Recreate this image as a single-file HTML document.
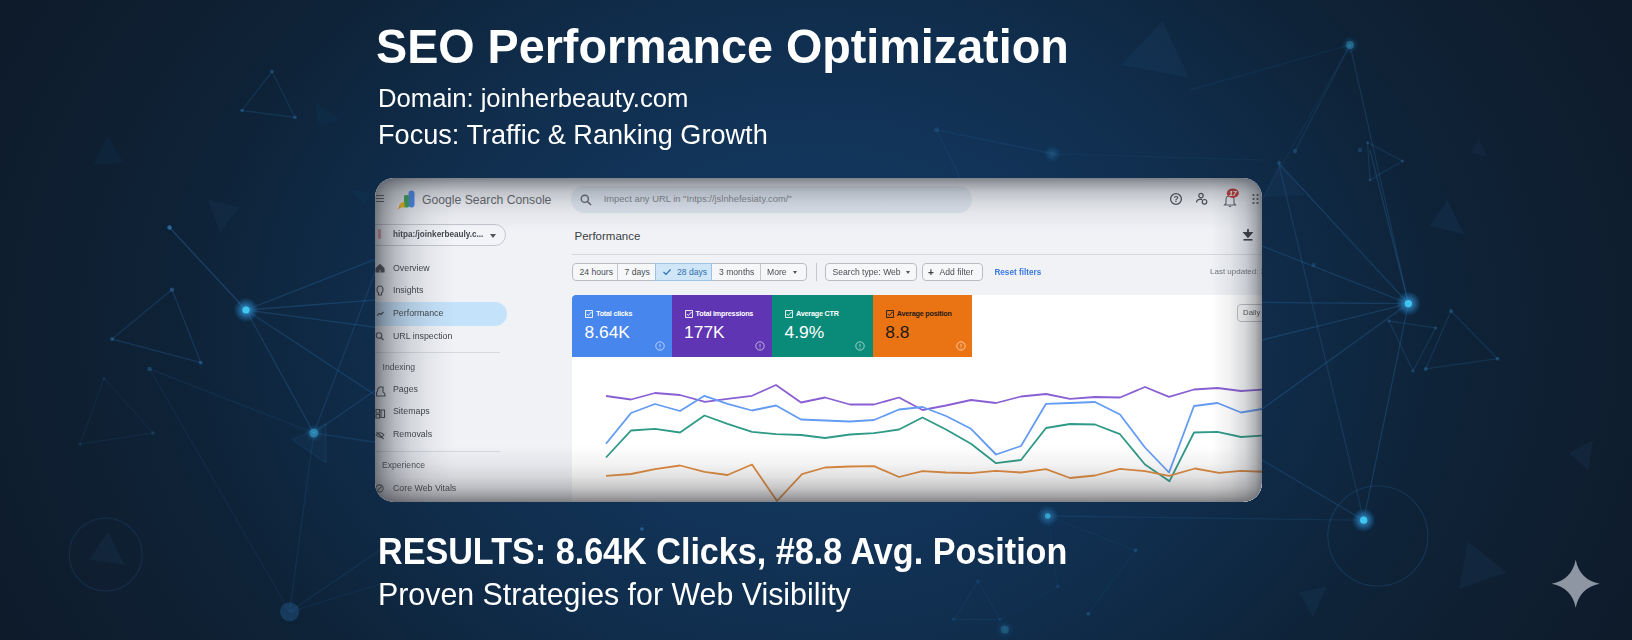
<!DOCTYPE html>
<html><head><meta charset="utf-8">
<style>
*{margin:0;padding:0;box-sizing:border-box}
html,body{width:1632px;height:640px;overflow:hidden}
body{position:relative;font-family:"Liberation Sans",sans-serif;background:#0e1b2b}
#bg{position:absolute;left:0;top:0;width:1632px;height:640px;
background:radial-gradient(ellipse 936px 720px at 815px 330px,#13385d 0%,#12355a 25%,#102d4c 46%,#0e2338 67%,#0f1e30 84%,#0d1a29 100%);}
.t{position:absolute;color:#fff;white-space:nowrap;line-height:1;transform-origin:0 0}
.abs{position:absolute}
.tx{position:absolute;white-space:nowrap;line-height:1}
#title{left:376px;top:21.6px;font-size:46.7px;font-weight:bold;transform:scaleY(1.047)}
#dom{left:378px;top:85.4px;font-size:25.67px;transform:scaleY(1.03)}
#foc{left:378px;top:121.27px;font-size:27.12px;transform:scaleY(1.007)}
#res{left:378px;top:533px;font-size:34.15px;font-weight:bold;transform:scaleY(1.064)}
#pro{left:378px;top:579px;font-size:30.35px;transform:scaleY(1.048)}
#card{position:absolute;left:375px;top:178px;width:887px;height:324px;border-radius:19px;overflow:hidden;background:#f0f2f6}
</style></head><body>
<div id="bg"></div>
<svg style="position:absolute;left:0;top:0" width="1632" height="640" viewBox="0 0 1632 640">
<defs><filter id="bl" x="-5%" y="-5%" width="110%" height="110%"><feGaussianBlur stdDeviation="0.7"/></filter></defs><g filter="url(#bl)">
<defs><radialGradient id="gl"><stop offset="0" stop-color="#3fb0e6" stop-opacity=".9"/><stop offset=".5" stop-color="#2a80bd" stop-opacity=".6"/><stop offset=".8" stop-color="#20679f" stop-opacity=".3"/><stop offset="1" stop-color="#1a5f98" stop-opacity="0"/></radialGradient></defs>
<line x1="272" y1="71.5" x2="242" y2="110.5" stroke="#3d8fd8" stroke-opacity="0.154" stroke-width="1.3"/>
<line x1="242" y1="110.5" x2="295" y2="117.5" stroke="#3d8fd8" stroke-opacity="0.154" stroke-width="1.3"/>
<line x1="295" y1="117.5" x2="272" y2="71.5" stroke="#3d8fd8" stroke-opacity="0.154" stroke-width="1.3"/>
<line x1="172" y1="289.6" x2="112" y2="339" stroke="#3d8fd8" stroke-opacity="0.193" stroke-width="1.3"/>
<line x1="112" y1="339" x2="200.8" y2="362.7" stroke="#3d8fd8" stroke-opacity="0.193" stroke-width="1.3"/>
<line x1="200.8" y1="362.7" x2="172" y2="289.6" stroke="#3d8fd8" stroke-opacity="0.193" stroke-width="1.3"/>
<line x1="104" y1="378.4" x2="79.9" y2="444.2" stroke="#3d8fd8" stroke-opacity="0.083" stroke-width="1.3"/>
<line x1="79.9" y1="444.2" x2="153" y2="433" stroke="#3d8fd8" stroke-opacity="0.083" stroke-width="1.3"/>
<line x1="153" y1="433" x2="104" y2="378.4" stroke="#3d8fd8" stroke-opacity="0.083" stroke-width="1.3"/>
<line x1="169.5" y1="227.5" x2="246" y2="310" stroke="#3d8fd8" stroke-opacity="0.275" stroke-width="1.3"/>
<line x1="149.6" y1="368.9" x2="289.6" y2="611.8" stroke="#3d8fd8" stroke-opacity="0.094" stroke-width="1.3"/>
<line x1="149.6" y1="368.9" x2="313.8" y2="433" stroke="#3d8fd8" stroke-opacity="0.110" stroke-width="1.3"/>
<line x1="313.8" y1="433" x2="246" y2="310" stroke="#3d8fd8" stroke-opacity="0.220" stroke-width="1.3"/>
<line x1="313.8" y1="433" x2="380" y2="387" stroke="#3d8fd8" stroke-opacity="0.193" stroke-width="1.3"/>
<line x1="313.8" y1="433" x2="380" y2="443" stroke="#3d8fd8" stroke-opacity="0.165" stroke-width="1.3"/>
<line x1="313.8" y1="433" x2="289.6" y2="611.8" stroke="#3d8fd8" stroke-opacity="0.121" stroke-width="1.3"/>
<line x1="313.8" y1="433" x2="380" y2="260" stroke="#3d8fd8" stroke-opacity="0.165" stroke-width="1.3"/>
<line x1="289.6" y1="611.8" x2="380" y2="550" stroke="#3d8fd8" stroke-opacity="0.121" stroke-width="1.3"/>
<line x1="289.6" y1="611.8" x2="380" y2="584" stroke="#3d8fd8" stroke-opacity="0.094" stroke-width="1.3"/>
<line x1="246" y1="310" x2="380" y2="257.5" stroke="#3d8fd8" stroke-opacity="0.220" stroke-width="1.3"/>
<line x1="246" y1="310" x2="380" y2="299.7" stroke="#3d8fd8" stroke-opacity="0.220" stroke-width="1.3"/>
<line x1="246" y1="310" x2="380" y2="327.8" stroke="#3d8fd8" stroke-opacity="0.220" stroke-width="1.3"/>
<line x1="246" y1="310" x2="380" y2="398" stroke="#3d8fd8" stroke-opacity="0.220" stroke-width="1.3"/>
<line x1="292.5" y1="440" x2="326" y2="423.4" stroke="#3d8fd8" stroke-opacity="0.110" stroke-width="1.3"/>
<line x1="326" y1="423.4" x2="326" y2="462.8" stroke="#3d8fd8" stroke-opacity="0.110" stroke-width="1.3"/>
<line x1="326" y1="462.8" x2="292.5" y2="440" stroke="#3d8fd8" stroke-opacity="0.110" stroke-width="1.3"/>
<line x1="1350" y1="45" x2="1408.4" y2="303.6" stroke="#3d8fd8" stroke-opacity="0.165" stroke-width="1.3"/>
<line x1="1350" y1="45" x2="1295" y2="151" stroke="#3d8fd8" stroke-opacity="0.138" stroke-width="1.3"/>
<line x1="1350" y1="45" x2="1190" y2="90" stroke="#3d8fd8" stroke-opacity="0.083" stroke-width="1.3"/>
<line x1="1350" y1="45" x2="1262" y2="200" stroke="#3d8fd8" stroke-opacity="0.083" stroke-width="1.3"/>
<line x1="1367.5" y1="142.5" x2="1402.5" y2="161" stroke="#3d8fd8" stroke-opacity="0.165" stroke-width="1.3"/>
<line x1="1402.5" y1="161" x2="1370" y2="180" stroke="#3d8fd8" stroke-opacity="0.165" stroke-width="1.3"/>
<line x1="1370" y1="180" x2="1367.5" y2="142.5" stroke="#3d8fd8" stroke-opacity="0.165" stroke-width="1.3"/>
<line x1="1408.4" y1="303.6" x2="1262" y2="246" stroke="#3d8fd8" stroke-opacity="0.220" stroke-width="1.3"/>
<line x1="1408.4" y1="303.6" x2="1278.5" y2="163" stroke="#3d8fd8" stroke-opacity="0.220" stroke-width="1.3"/>
<line x1="1408.4" y1="303.6" x2="1262" y2="302.4" stroke="#3d8fd8" stroke-opacity="0.220" stroke-width="1.3"/>
<line x1="1408.4" y1="303.6" x2="1262" y2="340" stroke="#3d8fd8" stroke-opacity="0.220" stroke-width="1.3"/>
<line x1="1408.4" y1="303.6" x2="1262" y2="409" stroke="#3d8fd8" stroke-opacity="0.220" stroke-width="1.3"/>
<line x1="1408.4" y1="303.6" x2="1370" y2="150" stroke="#3d8fd8" stroke-opacity="0.220" stroke-width="1.3"/>
<line x1="1408.4" y1="303.6" x2="1363.7" y2="520.2" stroke="#3d8fd8" stroke-opacity="0.220" stroke-width="1.3"/>
<line x1="1278.5" y1="163" x2="1363.7" y2="520.2" stroke="#3d8fd8" stroke-opacity="0.165" stroke-width="1.3"/>
<line x1="1363.7" y1="520.2" x2="1262" y2="460" stroke="#3d8fd8" stroke-opacity="0.193" stroke-width="1.3"/>
<line x1="1363.7" y1="520.2" x2="1047.7" y2="516" stroke="#3d8fd8" stroke-opacity="0.121" stroke-width="1.3"/>
<line x1="1451" y1="311" x2="1425.6" y2="368.9" stroke="#3d8fd8" stroke-opacity="0.165" stroke-width="1.3"/>
<line x1="1425.6" y1="368.9" x2="1497.6" y2="358.7" stroke="#3d8fd8" stroke-opacity="0.165" stroke-width="1.3"/>
<line x1="1497.6" y1="358.7" x2="1451" y2="311" stroke="#3d8fd8" stroke-opacity="0.165" stroke-width="1.3"/>
<line x1="1389" y1="321" x2="1435.7" y2="327.8" stroke="#3d8fd8" stroke-opacity="0.165" stroke-width="1.3"/>
<line x1="1435.7" y1="327.8" x2="1413" y2="371" stroke="#3d8fd8" stroke-opacity="0.165" stroke-width="1.3"/>
<line x1="1413" y1="371" x2="1389" y2="321" stroke="#3d8fd8" stroke-opacity="0.165" stroke-width="1.3"/>
<line x1="978" y1="581.3" x2="953.7" y2="619.6" stroke="#3d8fd8" stroke-opacity="0.083" stroke-width="1.3"/>
<line x1="953.7" y1="619.6" x2="1000" y2="619.6" stroke="#3d8fd8" stroke-opacity="0.083" stroke-width="1.3"/>
<line x1="1000" y1="619.6" x2="978" y2="581.3" stroke="#3d8fd8" stroke-opacity="0.083" stroke-width="1.3"/>
<line x1="1047.7" y1="516" x2="1135" y2="550.4" stroke="#3d8fd8" stroke-opacity="0.066" stroke-width="1.3"/>
<line x1="1047.7" y1="516" x2="1057.8" y2="586.5" stroke="#3d8fd8" stroke-opacity="0.055" stroke-width="1.3"/>
<line x1="1057.8" y1="586.5" x2="1000" y2="619.6" stroke="#3d8fd8" stroke-opacity="0.055" stroke-width="1.3"/>
<line x1="1136" y1="550" x2="1088" y2="613.5" stroke="#3d8fd8" stroke-opacity="0.072" stroke-width="1.3"/>
<line x1="936.5" y1="129.8" x2="1052.3" y2="153.75" stroke="#3d8fd8" stroke-opacity="0.099" stroke-width="1.3"/>
<line x1="936.5" y1="129.8" x2="960" y2="178" stroke="#3d8fd8" stroke-opacity="0.099" stroke-width="1.3"/>
<line x1="1052.3" y1="153.75" x2="1262" y2="160" stroke="#3d8fd8" stroke-opacity="0.066" stroke-width="1.3"/>
<polygon points="107.5,136 92.5,165 124,162.5" fill="#3a78b8" fill-opacity="0.060"/>
<polygon points="207.5,199 240,207.5 220,232.5" fill="#3a78b8" fill-opacity="0.072"/>
<polygon points="315,102.5 340,120 317.5,125" fill="#3a78b8" fill-opacity="0.060"/>
<polygon points="350,190 370,192.5 365,205" fill="#3a78b8" fill-opacity="0.060"/>
<polygon points="108,532 88.9,559.5 124.9,565" fill="#3a78b8" fill-opacity="0.084"/>
<polygon points="1162.5,21 1121,65 1189,77.5" fill="#3a78b8" fill-opacity="0.084"/>
<polygon points="1279,162.5 1305,195 1262.5,197.5" fill="#3a78b8" fill-opacity="0.072"/>
<polygon points="1479,139 1470,152.5 1487.5,157.5" fill="#3a78b8" fill-opacity="0.072"/>
<polygon points="1447.5,200 1429,226 1464,234" fill="#3a78b8" fill-opacity="0.096"/>
<polygon points="1593,440 1569,453 1588.7,471" fill="#3a78b8" fill-opacity="0.084"/>
<polygon points="1467.8,541.5 1507,572.5 1459,589" fill="#3a78b8" fill-opacity="0.084"/>
<polygon points="1299,592 1327,586.5 1313,617.5" fill="#3a78b8" fill-opacity="0.084"/>
<polygon points="292.5,440 326,423.4 326,462.8" fill="#3a78b8" fill-opacity="0.072"/>
<circle cx="105.7" cy="554.5" r="36.5" fill="none" stroke="#3d8fd8" stroke-opacity=".15" stroke-width="1.2"/>
<circle cx="1377.8" cy="536" r="50" fill="none" stroke="#3d8fd8" stroke-opacity=".18" stroke-width="1.2"/>
<circle cx="272" cy="71.5" r="1.8" fill="#3f9be6" fill-opacity="0.300"/>
<circle cx="242" cy="110.5" r="1.8" fill="#3f9be6" fill-opacity="0.300"/>
<circle cx="295" cy="117.5" r="1.8" fill="#3f9be6" fill-opacity="0.300"/>
<circle cx="169.5" cy="227.5" r="2.2" fill="#3f9be6" fill-opacity="0.540"/>
<circle cx="172" cy="289.6" r="2.2" fill="#3f9be6" fill-opacity="0.330"/>
<circle cx="112" cy="339" r="2" fill="#3f9be6" fill-opacity="0.300"/>
<circle cx="200.8" cy="362.7" r="2" fill="#3f9be6" fill-opacity="0.300"/>
<circle cx="149.6" cy="368.9" r="2.2" fill="#3f9be6" fill-opacity="0.270"/>
<circle cx="104" cy="378.4" r="1.5" fill="#3f9be6" fill-opacity="0.150"/>
<circle cx="79.9" cy="444.2" r="1.5" fill="#3f9be6" fill-opacity="0.150"/>
<circle cx="153" cy="433" r="1.8" fill="#3f9be6" fill-opacity="0.180"/>
<circle cx="1295" cy="151" r="2.2" fill="#3f9be6" fill-opacity="0.240"/>
<circle cx="1360" cy="150" r="2.2" fill="#3f9be6" fill-opacity="0.210"/>
<circle cx="1367.5" cy="142.5" r="1.5" fill="#3f9be6" fill-opacity="0.240"/>
<circle cx="1402.5" cy="161" r="1.5" fill="#3f9be6" fill-opacity="0.240"/>
<circle cx="1370" cy="180" r="1.5" fill="#3f9be6" fill-opacity="0.240"/>
<circle cx="1279" cy="162.5" r="2" fill="#3f9be6" fill-opacity="0.240"/>
<circle cx="1313.6" cy="264.9" r="2" fill="#3f9be6" fill-opacity="0.210"/>
<circle cx="1451" cy="311" r="2" fill="#3f9be6" fill-opacity="0.270"/>
<circle cx="1425.6" cy="368.9" r="2" fill="#3f9be6" fill-opacity="0.270"/>
<circle cx="1497.6" cy="358.7" r="2" fill="#3f9be6" fill-opacity="0.270"/>
<circle cx="1389" cy="321" r="1.6" fill="#3f9be6" fill-opacity="0.240"/>
<circle cx="1435.7" cy="327.8" r="1.6" fill="#3f9be6" fill-opacity="0.240"/>
<circle cx="1413" cy="371" r="1.6" fill="#3f9be6" fill-opacity="0.240"/>
<circle cx="1135" cy="550.4" r="2" fill="#3f9be6" fill-opacity="0.132"/>
<circle cx="1057.8" cy="586.5" r="2" fill="#3f9be6" fill-opacity="0.120"/>
<circle cx="1088.5" cy="614" r="2" fill="#3f9be6" fill-opacity="0.132"/>
<circle cx="978" cy="581.3" r="1.8" fill="#3f9be6" fill-opacity="0.120"/>
<circle cx="953.7" cy="619.6" r="1.8" fill="#3f9be6" fill-opacity="0.120"/>
<circle cx="1000" cy="619.6" r="1.8" fill="#3f9be6" fill-opacity="0.120"/>
<circle cx="641.9" cy="529" r="1.8" fill="#3f9be6" fill-opacity="0.420"/>
<circle cx="936.5" cy="129.8" r="2.5" fill="#3f9be6" fill-opacity="0.180"/>
<circle cx="1136" cy="550" r="1.5" fill="#3f9be6" fill-opacity="0.180"/>
<circle cx="1088" cy="613.5" r="1.5" fill="#3f9be6" fill-opacity="0.180"/>
<circle cx="246" cy="310" r="12.5" fill="url(#gl)" opacity="1.0"/>
<circle cx="246" cy="310" r="3.6" fill="#3fc6f0" opacity="1.0"/>
<circle cx="1408.4" cy="303.6" r="12.5" fill="url(#gl)" opacity="1.0"/>
<circle cx="1408.4" cy="303.6" r="3.6" fill="#3fc6f0" opacity="1.0"/>
<circle cx="1363.7" cy="520.2" r="12" fill="url(#gl)" opacity="1.0"/>
<circle cx="1363.7" cy="520.2" r="3.6" fill="#3fc6f0" opacity="1.0"/>
<circle cx="313.8" cy="433" r="9" fill="url(#gl)" opacity="0.42"/>
<circle cx="313.8" cy="433" r="4.5" fill="#3fc6f0" opacity="0.42"/>
<circle cx="289.6" cy="611.8" r="11" fill="url(#gl)" opacity="0.0"/>
<circle cx="1350" cy="45" r="9" fill="url(#gl)" opacity="0.3"/>
<circle cx="1350" cy="45" r="4" fill="#3fc6f0" opacity="0.3"/>
<circle cx="1047.7" cy="516" r="11" fill="url(#gl)" opacity="0.6"/>
<circle cx="1047.7" cy="516" r="2.8" fill="#3fc6f0" opacity="0.6"/>
<circle cx="1052.3" cy="153.75" r="9" fill="url(#gl)" opacity="0.3"/>
<circle cx="1004.8" cy="629.4" r="10" fill="url(#gl)" opacity="0.2"/>
<circle cx="1004.8" cy="629.4" r="4" fill="#3fc6f0" opacity="0.2"/>
<circle cx="289.6" cy="611.8" r="9.5" fill="#2a6aa5" opacity=".35"/>
</g>
<path d="M1575.7 559.7 Q1579.7 579.7 1599.7 583.7 Q1579.7 587.7 1575.7 607.7 Q1571.7 587.7 1551.7 583.7 Q1571.7 579.7 1575.7 559.7 Z" fill="#8d96a2"/>
</svg>
<div class="t" id="title">SEO Performance Optimization</div>
<div class="t" id="dom">Domain: joinherbeauty.com</div>
<div class="t" id="foc">Focus: Traffic &amp; Ranking Growth</div>
<div class="t" id="res">RESULTS: 8.64K Clicks, #8.8 Avg. Position</div>
<div class="t" id="pro">Proven Strategies for Web Visibility</div>
<div id="card">
<div class="abs" style="left:197px;top:117px;width:690px;height:207px;background:#fff"></div>
<div class="abs" style="left:1px;top:17px;width:8px;height:1.4px;background:#555;box-shadow:0 3px 0 #555,0 6px 0 #555"></div>
<svg class="abs" style="left:20px;top:11px" width="22" height="22" viewBox="0 0 22 22">
<rect x="13.5" y="1.5" width="6" height="17" rx="3" fill="#4285f4"/>
<rect x="9" y="6" width="5" height="12.5" rx="1.5" fill="#34a853"/>
<path d="M4 18.5 Q4 13 9.5 13 L9.5 18.5 Z" fill="#fbbc04"/>
<path d="M4.5 17.5 L2.5 20.5 L6 18.5 Z" fill="#f29900"/>
</svg>
<div class="tx" style="left:47.0px;top:16.07px;font-size:12.2px;color:#5f6368;font-weight:normal;transform:scaleY(1.1);transform-origin:0 80%">Google Search Console</div>
<div class="abs" style="left:196px;top:8px;width:401px;height:26.5px;border-radius:13.3px;background:#dde5ef"></div>
<svg class="abs" style="left:205px;top:16px" width="12" height="12" viewBox="0 0 12 12"><circle cx="4.8" cy="4.8" r="3.6" fill="none" stroke="#5f6368" stroke-width="1.4"/><path d="M7.5 7.5 L11 11" stroke="#5f6368" stroke-width="1.6"/></svg>
<div class="tx" style="left:228.7px;top:16.34px;font-size:9.4px;color:#7d838a;font-weight:normal;">Impect any URL in "Intps://jslnhefesiaty.com/"</div>
<svg class="abs" style="left:790px;top:10px" width="97" height="24" viewBox="0 0 97 24">
<circle cx="11" cy="11" r="5.4" fill="none" stroke="#4a4e53" stroke-width="1.3"/>
<text x="11" y="14" font-size="8.5" text-anchor="middle" fill="#4a4e53" font-weight="bold" font-family="Liberation Sans">?</text>
<circle cx="36" cy="7.6" r="2.2" fill="none" stroke="#4a4e53" stroke-width="1.2"/>
<path d="M31.5 14.5 Q31.5 11.3 35 11.3 L37 11.3" fill="none" stroke="#4a4e53" stroke-width="1.2"/>
<circle cx="39.5" cy="13.8" r="2.3" fill="none" stroke="#4a4e53" stroke-width="1.2"/>
<path d="M61 15.5 L61 11.5 Q61 7.8 65 7.8 Q69 7.8 69 11.5 L69 15.5 L70.5 17 L59.5 17 Z M64 18 Q65 19.5 66 18" fill="none" stroke="#5a5e63" stroke-width="1.1"/>
<ellipse cx="67.8" cy="5.2" rx="6" ry="4.8" fill="#c62f2b"/>
<text x="67.8" y="7.8" font-size="7" text-anchor="middle" fill="#fff" font-weight="bold" font-style="italic" font-family="Liberation Sans">17</text>
<g fill="#4a4e53"><circle cx="88.5" cy="7" r="1.1"/><circle cx="92.5" cy="7" r="1.1"/><circle cx="88.5" cy="11" r="1.1"/><circle cx="92.5" cy="11" r="1.1"/><circle cx="88.5" cy="15" r="1.1"/><circle cx="92.5" cy="15" r="1.1"/></g>
</svg>
<div class="abs" style="left:-12px;top:45.5px;width:143px;height:22.5px;border-radius:11.5px;border:1px solid #c4c8ce;background:#f2f4f8"></div>
<div class="abs" style="left:3px;top:51px;width:3px;height:10px;background:#e8a0a8;border-radius:1px"></div>
<div class="tx" style="left:18.0px;top:53.06px;font-size:8.2px;color:#45494e;font-weight:bold;">hitpa:/joinkerbeauly.c...</div>
<div class="abs" style="left:114.5px;top:55.5px;width:0;height:0;border-left:3.5px solid transparent;border-right:3.5px solid transparent;border-top:4px solid #555"></div>
<div class="abs" style="left:-12px;top:124.3px;width:144px;height:23.5px;border-radius:12px;background:#c4e2fa"></div>
<div class="tx" style="left:18.0px;top:85.95px;font-size:8.8px;color:#404448;font-weight:normal;">Overview</div>
<div class="tx" style="left:18.0px;top:108.30px;font-size:8.8px;color:#404448;font-weight:normal;">Insights</div>
<div class="tx" style="left:18.0px;top:131.45px;font-size:8.8px;color:#404448;font-weight:normal;">Performance</div>
<div class="tx" style="left:18.0px;top:154.35px;font-size:8.8px;color:#404448;font-weight:normal;">URL inspection</div>
<div class="tx" style="left:18.0px;top:207.25px;font-size:8.8px;color:#404448;font-weight:normal;">Pages</div>
<div class="tx" style="left:18.0px;top:229.35px;font-size:8.8px;color:#404448;font-weight:normal;">Sitemaps</div>
<div class="tx" style="left:18.0px;top:252.05px;font-size:8.8px;color:#404448;font-weight:normal;">Removals</div>
<div class="tx" style="left:18.0px;top:305.55px;font-size:8.8px;color:#404448;font-weight:normal;">Core Web Vitals</div>
<div class="tx" style="left:7.5px;top:184.72px;font-size:8.6px;color:#4a4e53;font-weight:normal;">Indexing</div>
<div class="tx" style="left:7.0px;top:283.47px;font-size:8.6px;color:#4a4e53;font-weight:normal;">Experience</div>
<div class="abs" style="left:0;top:174px;width:125px;height:1px;background:#d6d9de"></div>
<div class="abs" style="left:0;top:272.5px;width:125px;height:1px;background:#d6d9de"></div>
<svg class="abs" style="left:0;top:85px" width="16" height="235" viewBox="0 0 16 235">
<g fill="none" stroke="#4a4e53" stroke-width="1.1">
<path d="M1 5.5 L5 1.5 L9 5.5 L9 9 L6 9 L6 6.5 L4 6.5 L4 9 L1 9 Z" fill="#4a4e53"/>
<path d="M2 27 Q2 23 5 23 Q8 23 8 27 Q8 29 6.5 30 L6.5 32 L3.5 32 L3.5 30 Q2 29 2 27 Z"/>
<path d="M2 52.5 L4.5 50.5 L6 51.5 L8.5 49" stroke-width="1.3"/>
<circle cx="4" cy="72.5" r="2.8"/><path d="M6 74.5 L8.5 77"/>
<path d="M2.5 128 Q2.5 125 5 124 L8 124 L8 129 Q10 130 10 132 L10 133 L1.5 133 L1.5 131 Q1.5 129 2.5 128 Z"/>
<path d="M1 146.5 L4.5 146.5 L4.5 150 L1 150 Z M1 151.5 L4.5 151.5 L4.5 155 L1 155 Z M6 147 L9.5 147 L9.5 154.5 L6 154.5 Z"/>
<path d="M1 172 Q5 167.5 9 172 Q5 176.5 1 172 Z M1.5 169 L8.5 176"/>
<circle cx="4.5" cy="225.5" r="3.6"/><path d="M2.5 227.5 L6.5 223.5"/>
</g></svg>
<div class="tx" style="left:199.5px;top:53.27px;font-size:11.5px;color:#3c4043;font-weight:normal;">Performance</div>
<svg class="abs" style="left:867px;top:50px" width="12" height="14" viewBox="0 0 12 14"><path d="M6 1 L6 6 M2.5 5 L6 9 L9.5 5 Z" stroke="#3c3f43" stroke-width="1.8" fill="#3c3f43"/><rect x="1.5" y="11" width="9" height="1.6" fill="#3c3f43"/></svg>
<div class="abs" style="left:197px;top:76px;width:690px;height:1.2px;background:#d6d9de"></div>
<div class="abs" style="left:197px;top:85.3px;width:235px;height:17.7px;border:1px solid #b9bec5;border-radius:4px;background:#f6f7f9"></div>
<div class="abs" style="left:280.2px;top:85.3px;width:56.7px;height:17.7px;background:#cfe6f9;border:1px solid #9cc3e6"></div>
<div class="abs" style="left:242.4px;top:86px;width:1px;height:16.3px;background:#c4c8ce"></div>
<div class="abs" style="left:385px;top:86px;width:1px;height:16.3px;background:#c4c8ce"></div>
<div class="tx" style="left:204.5px;top:90.02px;font-size:8.6px;color:#4a4e53;font-weight:normal;">24 hours</div>
<div class="tx" style="left:249.5px;top:90.02px;font-size:8.6px;color:#4a4e53;font-weight:normal;">7 days</div>
<svg class="abs" style="left:287px;top:89px" width="10" height="10" viewBox="0 0 10 10"><path d="M1.5 5 L4 7.5 L8.5 2.5" stroke="#2a6fb0" stroke-width="1.2" fill="none"/></svg>
<div class="tx" style="left:302.0px;top:90.02px;font-size:8.6px;color:#2f6ea8;font-weight:normal;">28 days</div>
<div class="tx" style="left:344.0px;top:90.02px;font-size:8.6px;color:#4a4e53;font-weight:normal;">3 months</div>
<div class="tx" style="left:392.0px;top:90.02px;font-size:8.6px;color:#4a4e53;font-weight:normal;">More</div>
<div class="abs" style="left:418px;top:93px;border-left:2.5px solid transparent;border-right:2.5px solid transparent;border-top:3px solid #555"></div>
<div class="abs" style="left:441.2px;top:85px;width:1px;height:18px;background:#c4c8ce"></div>
<div class="abs" style="left:450px;top:85.3px;width:92px;height:17.7px;border:1px solid #b9bec5;border-radius:4px;background:#f6f7f9"></div>
<div class="tx" style="left:457.5px;top:90.02px;font-size:8.6px;color:#4a4e53;font-weight:normal;">Search type: Web</div>
<div class="abs" style="left:531px;top:93px;border-left:2.5px solid transparent;border-right:2.5px solid transparent;border-top:3px solid #555"></div>
<div class="abs" style="left:547px;top:85.3px;width:61px;height:17.7px;border:1px solid #b9bec5;border-radius:4px;background:#f6f7f9"></div>
<div class="tx" style="left:553.0px;top:89.53px;font-size:10px;color:#3c4043;font-weight:bold;">+</div>
<div class="tx" style="left:564.5px;top:90.02px;font-size:8.6px;color:#4a4e53;font-weight:normal;">Add filter</div>
<div class="tx" style="left:619.4px;top:91.06px;font-size:8.2px;color:#3b7ae0;font-weight:bold;">Reset filters</div>
<div class="tx" style="left:835.0px;top:90.23px;font-size:8px;color:#6f7378;font-weight:normal;">Last updated: 3 h</div>
<div class="abs" style="left:862px;top:126px;width:40px;height:18px;border:1px solid #bfc3c8;border-radius:4px;background:#fff"></div>
<div class="tx" style="left:868.0px;top:131.40px;font-size:7.8px;color:#555;font-weight:normal;">Daily</div>
<div class="abs" style="left:197px;top:117px;width:99.6px;height:62px;background:#4786ec;border-top-left-radius:4px;"></div>
<svg class="abs" style="left:210px;top:131.5px" width="8" height="8" viewBox="0 0 8 8"><rect x="0.6" y="0.6" width="6.8" height="6.8" fill="none" stroke="#fff" stroke-width="0.9"/><path d="M1.8 4 L3.3 5.5 L6.5 2" stroke="#fff" stroke-width="0.9" fill="none"/></svg>
<div class="tx" style="left:221.0px;top:131.61px;font-size:7.2px;color:#fff;font-weight:bold;letter-spacing:-0.2px">Total clicks</div>
<div class="tx" style="left:209.5px;top:146.17px;font-size:17.4px;color:#fff;font-weight:normal;">8.64K</div>
<svg class="abs" style="left:280px;top:162.5px" width="10" height="10" viewBox="0 0 10 10"><circle cx="5" cy="5" r="4.2" fill="none" stroke="rgba(255,255,255,.6)" stroke-width="1"/><path d="M5 2.8 L5 5.8 M5 6.8 L5 7.6" stroke="rgba(255,255,255,.6)" stroke-width="1"/></svg>
<div class="abs" style="left:296.6px;top:117px;width:100.4px;height:62px;background:#5f35b3;"></div>
<svg class="abs" style="left:309.6px;top:131.5px" width="8" height="8" viewBox="0 0 8 8"><rect x="0.6" y="0.6" width="6.8" height="6.8" fill="none" stroke="#fff" stroke-width="0.9"/><path d="M1.8 4 L3.3 5.5 L6.5 2" stroke="#fff" stroke-width="0.9" fill="none"/></svg>
<div class="tx" style="left:320.6px;top:131.61px;font-size:7.2px;color:#fff;font-weight:bold;letter-spacing:-0.2px">Total impressions</div>
<div class="tx" style="left:309.1px;top:146.17px;font-size:17.4px;color:#fff;font-weight:normal;">177K</div>
<svg class="abs" style="left:379.6px;top:162.5px" width="10" height="10" viewBox="0 0 10 10"><circle cx="5" cy="5" r="4.2" fill="none" stroke="rgba(255,255,255,.6)" stroke-width="1"/><path d="M5 2.8 L5 5.8 M5 6.8 L5 7.6" stroke="rgba(255,255,255,.6)" stroke-width="1"/></svg>
<div class="abs" style="left:397px;top:117px;width:100.8px;height:62px;background:#0a8a79;"></div>
<svg class="abs" style="left:410px;top:131.5px" width="8" height="8" viewBox="0 0 8 8"><rect x="0.6" y="0.6" width="6.8" height="6.8" fill="none" stroke="#fff" stroke-width="0.9"/><path d="M1.8 4 L3.3 5.5 L6.5 2" stroke="#fff" stroke-width="0.9" fill="none"/></svg>
<div class="tx" style="left:421.0px;top:131.61px;font-size:7.2px;color:#fff;font-weight:bold;letter-spacing:-0.2px">Average CTR</div>
<div class="tx" style="left:409.5px;top:146.17px;font-size:17.4px;color:#fff;font-weight:normal;">4.9%</div>
<svg class="abs" style="left:480px;top:162.5px" width="10" height="10" viewBox="0 0 10 10"><circle cx="5" cy="5" r="4.2" fill="none" stroke="rgba(255,255,255,.6)" stroke-width="1"/><path d="M5 2.8 L5 5.8 M5 6.8 L5 7.6" stroke="rgba(255,255,255,.6)" stroke-width="1"/></svg>
<div class="abs" style="left:497.8px;top:117px;width:99.7px;height:62px;background:#ea7313;"></div>
<svg class="abs" style="left:510.8px;top:131.5px" width="8" height="8" viewBox="0 0 8 8"><rect x="0.6" y="0.6" width="6.8" height="6.8" fill="none" stroke="#1f1a17" stroke-width="0.9"/><path d="M1.8 4 L3.3 5.5 L6.5 2" stroke="#1f1a17" stroke-width="0.9" fill="none"/></svg>
<div class="tx" style="left:521.8px;top:131.61px;font-size:7.2px;color:#1f1a17;font-weight:bold;letter-spacing:-0.2px">Average position</div>
<div class="tx" style="left:510.3px;top:146.17px;font-size:17.4px;color:#1f1a17;font-weight:normal;">8.8</div>
<svg class="abs" style="left:580.8px;top:162.5px" width="10" height="10" viewBox="0 0 10 10"><circle cx="5" cy="5" r="4.2" fill="none" stroke="rgba(255,255,255,.6)" stroke-width="1"/><path d="M5 2.8 L5 5.8 M5 6.8 L5 7.6" stroke="rgba(255,255,255,.6)" stroke-width="1"/></svg>
<svg class="abs" style="left:0;top:0" width="887" height="324" viewBox="0 0 887 324">
<polyline points="231.0,218.0 256.0,221.5 280.0,215.0 305.0,217.0 330.0,223.8 352.5,220.8 377.0,217.8 401.0,207.0 426.0,224.5 450.0,219.5 475.0,226.5 499.0,226.5 524.0,219.5 547.5,232.0 571.0,227.5 596.0,222.0 621.0,225.0 646.0,218.5 671.0,216.0 695.0,220.8 720.0,219.0 745.0,219.5 770.0,209.0 794.0,218.8 819.0,211.5 842.5,210.0 866.0,213.0 888.0,211.5" fill="none" stroke="#8a5fd3" stroke-width="1.8" stroke-linejoin="round"/>
<polyline points="231.0,265.8 256.0,235.0 280.0,226.0 305.0,233.0 329.5,217.8 352.5,225.8 377.0,232.5 401.0,227.5 426.0,241.5 450.0,242.5 475.0,243.5 499.0,242.0 524.0,231.5 547.5,229.0 571.0,238.0 596.0,250.8 621.0,276.5 646.0,268.0 671.0,225.8 695.0,225.0 720.0,224.0 745.0,236.5 770.0,269.5 794.0,294.5 819.0,228.0 842.5,225.0 866.0,234.5 888.0,230.8" fill="none" stroke="#649cf3" stroke-width="1.8" stroke-linejoin="round"/>
<polyline points="231.0,279.5 256.0,252.5 280.0,250.8 305.0,254.5 329.5,237.5 352.5,245.8 377.0,253.8 401.0,256.2 426.0,257.0 450.0,260.0 475.0,256.5 499.0,255.2 524.0,251.5 547.5,239.5 571.0,251.5 596.0,265.8 621.0,285.2 646.0,282.0 671.0,250.0 695.0,246.0 720.0,246.5 745.0,256.2 770.0,286.5 794.5,303.2 819.0,254.5 842.5,253.8 866.0,259.0 888.0,257.5" fill="none" stroke="#2f9a88" stroke-width="1.8" stroke-linejoin="round"/>
<polyline points="231.0,297.8 256.0,296.0 280.0,291.2 305.0,287.5 329.5,293.8 352.5,297.0 377.0,286.5 402.0,323.0 427.0,296.2 450.0,289.5 475.0,288.5 499.0,288.2 524.0,299.0 547.5,293.2 571.0,294.5 596.0,295.2 621.0,292.8 646.0,294.5 671.0,291.2 695.0,300.0 720.0,297.5 745.0,290.8 770.0,293.2 794.0,297.8 820.0,290.5 844.0,294.8 866.0,292.8 888.0,293.8" fill="none" stroke="#e08a3c" stroke-width="1.8" stroke-linejoin="round"/>
</svg>
<div class="abs" style="left:0;top:0;width:887px;height:324px;border-radius:19px;
background:
linear-gradient(to bottom, rgba(55,60,70,.62) 0px, rgba(60,65,75,.45) 6px, rgba(70,75,85,.28) 14px, rgba(80,85,95,.15) 25px, rgba(90,95,105,.06) 38px, rgba(0,0,0,0) 54px),
linear-gradient(to top, rgba(50,50,55,.6) 0px, rgba(55,55,60,.45) 6px, rgba(65,65,70,.3) 14px, rgba(75,75,80,.17) 25px, rgba(85,85,90,.07) 38px, rgba(0,0,0,0) 56px),
linear-gradient(to right, rgba(40,45,55,.62) 0px, rgba(45,50,60,.46) 8px, rgba(55,60,70,.3) 20px, rgba(65,70,80,.16) 36px, rgba(70,75,85,.06) 56px, rgba(0,0,0,0) 80px),
linear-gradient(to left, rgba(40,45,55,.55) 0px, rgba(45,50,60,.36) 7px, rgba(55,60,70,.2) 17px, rgba(65,70,80,.08) 32px, rgba(0,0,0,0) 52px);"></div>
</div>
</body></html>
